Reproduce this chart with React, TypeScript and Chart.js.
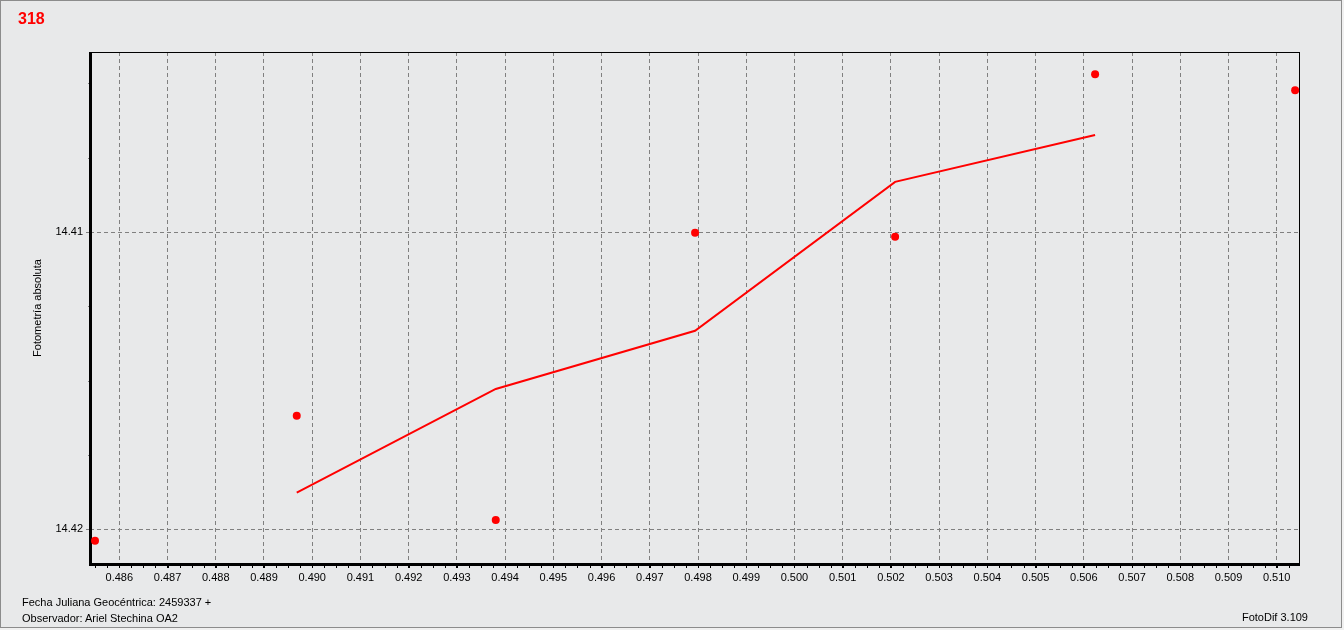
import React, { useEffect, useRef } from "react";
import { Chart, registerables } from "chart.js";

Chart.register(...registerables);

// Observations (Julian date fraction, absolute photometry)
const obsX = [0.485496, 0.489679, 0.493806, 0.497939, 0.502087, 0.506234, 0.510382];
const obsY = [14.42039, 14.41618, 14.41969, 14.41002, 14.41016, 14.40469, 14.40523];

// Smoothed curve
const smoothX = [0.489679, 0.493806, 0.497939, 0.502087, 0.506234];
const smoothY = [14.41877, 14.41528, 14.41332, 14.40831, 14.40673];

// Axis ticks
const xTickValues = [0.486, 0.487, 0.488, 0.489, 0.49, 0.491, 0.492, 0.493, 0.494, 0.495, 0.496, 0.497, 0.498, 0.499, 0.5, 0.501, 0.502, 0.503, 0.504, 0.505, 0.506, 0.507, 0.508, 0.509, 0.51];
const xTickLabels = ["0.486", "0.487", "0.488", "0.489", "0.490", "0.491", "0.492", "0.493", "0.494", "0.495", "0.496", "0.497", "0.498", "0.499", "0.500", "0.501", "0.502", "0.503", "0.504", "0.505", "0.506", "0.507", "0.508", "0.509", "0.510"];
const yTickValues = [14.41, 14.42];
const yTickLabels = ["14.41", "14.42"];

const xMin = 0.485392;
const xMax = 0.510483;
const yMin = 14.40394;
const yMax = 14.42117;

const xMinorStep = 0.00025;
const yMinorStep = 0.0025;

const FONT = "'Liberation Sans', Arial, sans-serif";

const framePlugin = {
  id: "framePlugin",
  beforeDatasetsDraw(chart: any) {
    const { ctx, chartArea } = chart;
    const { left, right, top, bottom } = chartArea;
    const xs = chart.scales.x;
    const ys = chart.scales.y;
    ctx.save();
    // minor ticks x
    ctx.strokeStyle = "#000";
    ctx.lineWidth = 1;
    const startX = Math.ceil(xMin / xMinorStep) * xMinorStep;
    for (let i = 0; ; i++) {
      const v = startX + i * xMinorStep;
      if (v > xMax) break;
      const px = Math.round(xs.getPixelForValue(v)) + 0.5;
      ctx.beginPath();
      ctx.moveTo(px, bottom);
      ctx.lineTo(px, bottom + 4);
      ctx.stroke();
    }
    ctx.strokeStyle = "#808080";
    const startY = Math.ceil(yMin / yMinorStep) * yMinorStep;
    for (let i = 0; ; i++) {
      const v = startY + i * yMinorStep;
      if (v > yMax) break;
      const py = Math.round(ys.getPixelForValue(v)) + 0.5;
      ctx.beginPath();
      ctx.moveTo(left - 2, py);
      ctx.lineTo(left, py);
      ctx.stroke();
    }
    // frame
    ctx.strokeStyle = "#000";
    ctx.lineWidth = 1;
    ctx.strokeRect(left + 0.5, top + 0.5, right - left - 1, bottom - top - 1);
    ctx.lineWidth = 3;
    ctx.beginPath();
    ctx.moveTo(left + 0.5, top);
    ctx.lineTo(left + 0.5, bottom + 0.5);
    ctx.lineTo(right, bottom + 0.5);
    ctx.stroke();
    ctx.restore();
  },
};

export default function App() {
  const ref = useRef<HTMLCanvasElement>(null);

  useEffect(() => {
    document.body.style.margin = "0";
    document.body.style.background = "#f0f0f0";
    const canvas = ref.current;
    if (!canvas) return;
    const chart = new Chart(canvas, {
      type: "scatter",
      data: {
        datasets: [
          {
            data: obsX.map((x, i) => ({ x, y: obsY[i] })),
            backgroundColor: "#ff0000",
            borderColor: "#ff0000",
            pointRadius: 4,
            pointBorderWidth: 0,
            showLine: false,
            clip: false,
          },
          {
            data: smoothX.map((x, i) => ({ x, y: smoothY[i] })),
            borderColor: "#ff0000",
            backgroundColor: "#ff0000",
            borderWidth: 2,
            pointRadius: 0,
            showLine: true,
            tension: 0,
          },
        ],
      },
      options: {
        animation: false,
        responsive: false,
        maintainAspectRatio: false,
        devicePixelRatio: 1,
        layout: { padding: { top: 52, right: 44, left: 0, bottom: 0 } },
        plugins: {
          legend: { display: false },
          tooltip: { enabled: false },
        },
        scales: {
          x: {
            type: "linear",
            min: xMin,
            max: xMax,
            afterBuildTicks: (scale: any) => {
              scale.ticks = xTickValues.map((v) => ({ value: v }));
            },
            afterFit: (scale: any) => {
              scale.height = 66;
            },
            ticks: {
              autoSkip: false,
              maxRotation: 0,
              padding: 3,
              color: "#000",
              font: { family: FONT, size: 11 },
              callback: (_v: any, i: number) => xTickLabels[i],
            },
            grid: {
              color: "#808080",
              lineWidth: 1,
              tickLength: 4,
              tickColor: "#000",
              drawTicks: true,
            },
            border: { display: false, dash: [4, 3] },
          },
          y: {
            type: "linear",
            reverse: true,
            min: yMin,
            max: yMax,
            afterBuildTicks: (scale: any) => {
              scale.ticks = yTickValues.map((v) => ({ value: v }));
            },
            afterFit: (scale: any) => {
              scale.width = 90;
            },
            ticks: {
              autoSkip: false,
              padding: 3,
              color: "#000",
              font: { family: FONT, size: 11 },
              callback: (_v: any, i: number) => yTickLabels[i],
            },
            grid: {
              color: "#808080",
              lineWidth: 1,
              tickLength: 4,
              tickColor: "#808080",
              tickBorderDash: [4, 3],
            },
            border: { display: false, dash: [4, 3] },
            title: {
              display: true,
              text: "Fotometría absoluta",
              color: "#000",
              font: { family: FONT, size: 11 },
              padding: { top: 31, bottom: 0 },
            },
          },
        },
      },
      plugins: [framePlugin],
    });
    return () => chart.destroy();
  }, []);

  const textStyle: React.CSSProperties = {
    position: "absolute",
    fontFamily: FONT,
    fontSize: 11,
    lineHeight: "13px",
    color: "#000",
    whiteSpace: "nowrap",
  };

  return (
    <div style={{ position: "relative", width: 1344, height: 630, background: "#f0f0f0" }}>
      <div
        style={{
          position: "absolute",
          left: 0,
          top: 0,
          width: 1340,
          height: 626,
          border: "1px solid #8c8c8c",
          background: "#e8e9ea",
        }}
      />
      <canvas ref={ref} width={1344} height={630} style={{ position: "absolute", left: 0, top: 0, width: 1344, height: 630 }} />
      <div
        style={{
          position: "absolute",
          left: 18,
          top: 10,
          fontFamily: FONT,
          fontWeight: "bold",
          fontSize: 16,
          lineHeight: "18px",
          color: "#ff0000",
        }}
      >
        318
      </div>
      <div style={{ ...textStyle, left: 22, top: 596 }}>Fecha Juliana Geocéntrica: 2459337 +</div>
      <div style={{ ...textStyle, left: 22, top: 612 }}>Observador: Ariel Stechina OA2</div>
      <div style={{ ...textStyle, right: 1344 - 1308, top: 611 }}>FotoDif 3.109</div>
    </div>
  );
}
